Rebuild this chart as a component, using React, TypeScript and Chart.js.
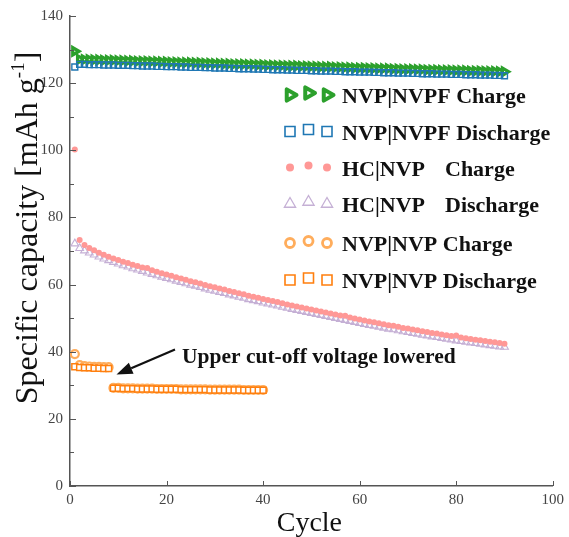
import React, { useEffect, useRef } from 'react';
import { Chart, registerables } from 'chart.js';

Chart.register(...registerables);

// Cycle numbers
const cycles90 = Array.from({ length: 90 }, (_, i) => i + 1);
const cycles40 = Array.from({ length: 40 }, (_, i) => i + 1);

// NVP|NVPF full cell
const nvpfCharge = [
  129.5, 127.1, 127.0, 127.0, 126.9, 126.9, 126.8, 126.8, 126.8, 126.7,
  126.7, 126.6, 126.6, 126.5, 126.5, 126.5, 126.4, 126.4, 126.3, 126.3,
  126.2, 126.2, 126.1, 126.1, 126.1, 126.0, 126.0, 125.9, 125.9, 125.8,
  125.8, 125.7, 125.7, 125.6, 125.6, 125.6, 125.5, 125.5, 125.4, 125.4,
  125.3, 125.3, 125.2, 125.2, 125.1, 125.1, 125.1, 125.0, 125.0, 124.9,
  124.9, 124.8, 124.8, 124.8, 124.7, 124.7, 124.6, 124.6, 124.5, 124.5,
  124.5, 124.4, 124.4, 124.3, 124.3, 124.3, 124.2, 124.2, 124.1, 124.1,
  124.1, 124.0, 124.0, 123.9, 123.9, 123.9, 123.8, 123.8, 123.8, 123.7,
  123.7, 123.7, 123.6, 123.6, 123.6, 123.5, 123.5, 123.5, 123.4, 123.4,
];
const nvpfDischarge = [
  124.8, 125.6, 125.6, 125.5, 125.5, 125.5, 125.4, 125.4, 125.4, 125.3,
  125.3, 125.3, 125.2, 125.2, 125.1, 125.1, 125.1, 125.0, 125.0, 124.9,
  124.9, 124.9, 124.8, 124.8, 124.7, 124.7, 124.7, 124.6, 124.6, 124.5,
  124.5, 124.5, 124.4, 124.4, 124.3, 124.3, 124.3, 124.2, 124.2, 124.1,
  124.1, 124.0, 124.0, 124.0, 123.9, 123.9, 123.8, 123.8, 123.8, 123.7,
  123.7, 123.6, 123.6, 123.6, 123.5, 123.5, 123.4, 123.4, 123.4, 123.3,
  123.3, 123.3, 123.2, 123.2, 123.1, 123.1, 123.1, 123.0, 123.0, 123.0,
  122.9, 122.9, 122.8, 122.8, 122.8, 122.7, 122.7, 122.7, 122.6, 122.6,
  122.6, 122.5, 122.5, 122.5, 122.4, 122.4, 122.4, 122.3, 122.3, 122.2,
];

// HC|NVP full cell
const hcCharge = [
  100.2, 73.3, 71.8, 70.9, 70.2, 69.5, 68.9, 68.3, 67.8, 67.3,
  66.8, 66.4, 65.9, 65.5, 65.1, 64.9, 64.3, 63.8, 63.4, 63.0,
  62.6, 62.2, 61.8, 61.4, 61.0, 60.7, 60.3, 59.9, 59.5, 59.2,
  58.8, 58.5, 58.1, 57.8, 57.4, 57.1, 56.7, 56.4, 56.1, 55.7,
  55.4, 55.1, 54.8, 54.4, 54.1, 53.8, 53.5, 53.2, 52.9, 52.6,
  52.3, 52.0, 51.7, 51.4, 51.1, 50.8, 50.7, 50.2, 49.9, 49.6,
  49.3, 49.0, 48.8, 48.5, 48.2, 47.9, 47.7, 47.4, 47.1, 46.9,
  46.6, 46.4, 46.1, 45.9, 45.6, 45.4, 45.1, 44.9, 44.7, 44.8,
  44.2, 44.0, 43.8, 43.6, 43.4, 43.2, 43.0, 42.8, 42.6, 42.4,
];
const hcDischarge = [
  72.2, 70.8, 70.1, 69.5, 68.9, 68.3, 67.7, 67.2, 66.7, 66.2,
  65.7, 65.3, 64.8, 64.4, 64.0, 63.5, 63.1, 62.7, 62.3, 61.9,
  61.5, 61.1, 60.7, 60.3, 59.9, 59.6, 59.2, 58.8, 58.4, 58.1,
  57.7, 57.4, 57.0, 56.7, 56.3, 56.0, 55.6, 55.3, 55.0, 54.6,
  54.3, 54.0, 53.7, 53.3, 53.0, 52.7, 52.4, 52.1, 51.8, 51.5,
  51.2, 50.9, 50.6, 50.3, 50.0, 49.7, 49.4, 49.1, 48.8, 48.5,
  48.2, 47.9, 47.7, 47.4, 47.1, 46.8, 46.6, 46.3, 46.0, 45.8,
  45.5, 45.3, 45.0, 44.8, 44.5, 44.3, 44.0, 43.8, 43.6, 43.3,
  43.1, 42.9, 42.7, 42.5, 42.3, 42.1, 41.9, 41.7, 41.5, 41.4,
];

// NVP|NVP symmetric cell (cut-off lowered after cycle 8)
const symCharge = [
  39.3, 36.0, 35.7, 35.6, 35.5, 35.5, 35.4, 35.4,
  29.2, 29.2, 29.1, 29.1, 29.1, 29.0, 29.0, 29.0, 29.0, 28.9, 28.9, 28.9,
  28.9, 28.9, 28.8, 28.8, 28.8, 28.8, 28.8, 28.8, 28.7, 28.7,
  28.7, 28.7, 28.7, 28.7, 28.7, 28.6, 28.6, 28.6, 28.6, 28.6,
];
const symDischarge = [
  35.5, 35.3, 35.2, 35.2, 35.1, 35.1, 35.0, 35.0,
  29.1, 29.1, 29.0, 29.0, 29.0, 28.9, 28.9, 28.9, 28.9, 28.8, 28.8, 28.8,
  28.8, 28.8, 28.7, 28.7, 28.7, 28.7, 28.7, 28.7, 28.6, 28.6,
  28.6, 28.6, 28.6, 28.6, 28.6, 28.5, 28.5, 28.5, 28.5, 28.5,
];

const Y_MAJOR = [0, 20, 40, 60, 80, 100, 120, 140];
const Y_MINOR = [10, 30, 50, 70, 90, 110, 130];
const X_MAJOR = [0, 20, 40, 60, 80, 100];

const GREEN = '#2ca02c';
const BLUE = '#1f77b4';
const PINK = '#ff9896';
const LAVENDER = '#c5b0d5';
const PEACH = '#ffad5c';
const ORANGE = '#ff7f0e';
const AXIS = '#555555';
const SERIF = "'Liberation Serif', 'Times New Roman', serif";

type MarkerKind = 'triRight' | 'triUp' | 'square' | 'dot' | 'ring';

const LEGEND_ROWS: { kind: MarkerKind; color: string; name: string; mode: string; split: boolean }[] = [
  { kind: 'triRight', color: GREEN, name: 'NVP|NVPF', mode: 'Charge', split: false },
  { kind: 'square', color: BLUE, name: 'NVP|NVPF', mode: 'Discharge', split: false },
  { kind: 'dot', color: PINK, name: 'HC|NVP', mode: 'Charge', split: true },
  { kind: 'triUp', color: LAVENDER, name: 'HC|NVP', mode: 'Discharge', split: true },
  { kind: 'ring', color: PEACH, name: 'NVP|NVP', mode: 'Charge', split: false },
  { kind: 'square', color: ORANGE, name: 'NVP|NVP', mode: 'Discharge', split: false },
];
const LEGEND_Y = [95, 131.5, 167.5, 204, 243, 280];

function drawMarker(ctx: CanvasRenderingContext2D, kind: MarkerKind, color: string, x: number, y: number) {
  ctx.save();
  ctx.beginPath();
  ctx.strokeStyle = color;
  ctx.fillStyle = color;
  if (kind === 'triRight') {
    const r = 6.5;
    ctx.moveTo(x + r, y);
    ctx.lineTo(x - r * 0.5, y - r * 0.866);
    ctx.lineTo(x - r * 0.5, y + r * 0.866);
    ctx.closePath();
    ctx.fillStyle = '#ffffff';
    ctx.fill();
    ctx.lineWidth = 4;
    ctx.lineJoin = 'round';
    ctx.stroke();
  } else if (kind === 'triUp') {
    const r = 6.5;
    ctx.moveTo(x, y - r);
    ctx.lineTo(x + r * 0.866, y + r * 0.5);
    ctx.lineTo(x - r * 0.866, y + r * 0.5);
    ctx.closePath();
    ctx.lineWidth = 1.3;
    ctx.stroke();
  } else if (kind === 'square') {
    ctx.rect(x - 5, y - 5, 10, 10);
    ctx.lineWidth = 1.6;
    ctx.stroke();
  } else if (kind === 'dot') {
    ctx.arc(x, y, 4, 0, Math.PI * 2);
    ctx.fill();
  } else {
    ctx.arc(x, y, 4.5, 0, Math.PI * 2);
    ctx.lineWidth = 2.8;
    ctx.stroke();
  }
  ctx.restore();
}

const decorations = {
  id: 'decorations',
  afterDraw(chart: any) {
    const { ctx, chartArea, scales } = chart;
    const xs = scales.x;
    const ys = scales.y;
    ctx.save();

    // inward tick marks
    ctx.strokeStyle = AXIS;
    ctx.lineWidth = 1;
    ctx.beginPath();
    for (const v of Y_MAJOR) {
      const py = Math.round(ys.getPixelForValue(v)) + 0.5;
      ctx.moveTo(chartArea.left, py);
      ctx.lineTo(chartArea.left + 6, py);
    }
    for (const v of Y_MINOR) {
      const py = Math.round(ys.getPixelForValue(v)) + 0.5;
      ctx.moveTo(chartArea.left, py);
      ctx.lineTo(chartArea.left + 4, py);
    }
    for (const v of X_MAJOR) {
      const px = Math.round(xs.getPixelForValue(v)) + 0.5;
      ctx.moveTo(px, chartArea.bottom);
      ctx.lineTo(px, chartArea.bottom - 5);
    }
    ctx.stroke();

    // axis titles
    ctx.fillStyle = '#111111';
    ctx.textBaseline = 'alphabetic';
    ctx.font = `28px ${SERIF}`;
    ctx.textAlign = 'center';
    ctx.fillText('Cycle', (chartArea.left + chartArea.right) / 2 - 2, 531);

    ctx.save();
    ctx.translate(37, 228);
    ctx.rotate(-Math.PI / 2);
    const mainFont = `32px ${SERIF}`;
    const supFont = `19px ${SERIF}`;
    const main = 'Specific capacity [mAh g';
    const sup = '-1';
    const close = ']';
    ctx.font = mainFont;
    const wMain = ctx.measureText(main).width;
    const wClose = ctx.measureText(close).width;
    ctx.font = supFont;
    const wSup = ctx.measureText(sup).width;
    const total = wMain + wSup + wClose;
    let cx = -total / 2;
    ctx.textAlign = 'left';
    ctx.font = mainFont;
    ctx.fillText(main, cx, 0);
    cx += wMain;
    ctx.font = supFont;
    ctx.fillText(sup, cx, -13);
    cx += wSup;
    ctx.font = mainFont;
    ctx.fillText(close, cx, 0);
    ctx.restore();

    // legend
    const markerX = [290, 308.5, 327];
    LEGEND_ROWS.forEach((row, i) => {
      const y = LEGEND_Y[i];
      markerX.forEach((mx, j) => drawMarker(ctx, row.kind, row.color, mx, j === 1 ? y - 2 : y));
      ctx.fillStyle = '#111111';
      ctx.font = `bold 22px ${SERIF}`;
      ctx.textAlign = 'left';
      if (row.split) {
        ctx.fillText(row.name, 342, y + 8);
        ctx.fillText(row.mode, 445, y + 8);
      } else {
        ctx.fillText(`${row.name} ${row.mode}`, 342, y + 8);
      }
    });

    // annotation with arrow
    ctx.font = `bold 21.5px ${SERIF}`;
    ctx.fillStyle = '#111111';
    ctx.textAlign = 'left';
    ctx.fillText('Upper cut-off voltage lowered', 182, 363);

    const x0 = 175, y0 = 349.5, x1 = 116.5, y1 = 374.5;
    const ang = Math.atan2(y1 - y0, x1 - x0);
    const headLen = 16, headHalf = 6;
    const bx = x1 - headLen * Math.cos(ang);
    const by = y1 - headLen * Math.sin(ang);
    ctx.strokeStyle = '#111111';
    ctx.lineWidth = 2.2;
    ctx.beginPath();
    ctx.moveTo(x0, y0);
    ctx.lineTo(bx, by);
    ctx.stroke();
    ctx.beginPath();
    ctx.moveTo(x1, y1);
    ctx.lineTo(bx + headHalf * Math.sin(ang), by - headHalf * Math.cos(ang));
    ctx.lineTo(bx - headHalf * Math.sin(ang), by + headHalf * Math.cos(ang));
    ctx.closePath();
    ctx.fillStyle = '#111111';
    ctx.fill();

    ctx.restore();
  },
};

function toPoints(xs: number[], ys: number[]) {
  return xs.map((x, i) => ({ x, y: ys[i] }));
}

export default function App() {
  const canvasRef = useRef<HTMLCanvasElement | null>(null);

  useEffect(() => {
    document.body.style.margin = '0';
    const canvas = canvasRef.current;
    if (!canvas) return;

    const chart = new Chart(canvas, {
      type: 'scatter',
      data: {
        datasets: [
          {
            label: 'NVP|NVPF Discharge',
            data: toPoints(cycles90, nvpfDischarge),
            pointStyle: 'rect',
            pointRadius: 4.2,
            borderColor: BLUE,
            backgroundColor: 'rgba(255,255,255,0)',
            borderWidth: 1.4,
            order: 1,
          },
          {
            label: 'NVP|NVPF Charge',
            data: toPoints(cycles90, nvpfCharge),
            pointStyle: 'triangle',
            rotation: 90,
            pointRadius: 4.2,
            borderColor: GREEN,
            backgroundColor: '#ffffff',
            borderWidth: 3.2,
            order: 2,
          },
          {
            label: 'HC|NVP Charge',
            data: toPoints(cycles90, hcCharge),
            pointStyle: 'circle',
            pointRadius: 3,
            borderColor: PINK,
            backgroundColor: PINK,
            borderWidth: 0,
            order: 3,
          },
          {
            label: 'HC|NVP Discharge',
            data: toPoints(cycles90, hcDischarge),
            pointStyle: 'triangle',
            pointRadius: 4.5,
            borderColor: LAVENDER,
            backgroundColor: 'rgba(255,255,255,0)',
            borderWidth: 1.1,
            order: 4,
          },
          {
            label: 'NVP|NVP Discharge',
            data: toPoints(cycles40, symDischarge),
            pointStyle: 'rect',
            pointRadius: 4.2,
            borderColor: ORANGE,
            backgroundColor: '#ffffff',
            borderWidth: 1.5,
            order: 5,
          },
          {
            label: 'NVP|NVP Charge',
            data: toPoints(cycles40, symCharge),
            pointStyle: 'circle',
            pointRadius: 4,
            borderColor: PEACH,
            backgroundColor: 'rgba(255,255,255,0)',
            borderWidth: 2.2,
            order: 6,
          },
        ],
      },
      options: {
        animation: false,
        responsive: false,
        layout: { padding: { top: 15, right: 13, left: 0, bottom: 0 } },
        plugins: {
          legend: { display: false },
          tooltip: { enabled: false },
        },
        scales: {
          x: {
            type: 'linear',
            min: 0,
            max: 100,
            ticks: {
              stepSize: 20,
              color: '#444444',
              padding: 5,
              maxRotation: 0,
              font: { family: SERIF, size: 15 },
            },
            grid: { display: false, drawTicks: false },
            border: { display: true, color: AXIS, width: 1.5 },
            afterFit: (s: any) => {
              s.height = 51;
            },
          },
          y: {
            type: 'linear',
            min: 0,
            max: 140,
            ticks: {
              stepSize: 20,
              color: '#444444',
              padding: 7,
              font: { family: SERIF, size: 15 },
            },
            grid: { display: false, drawTicks: false },
            border: { display: true, color: AXIS, width: 1.5 },
            afterFit: (s: any) => {
              s.width = 70;
            },
          },
        },
      },
      plugins: [decorations],
    });

    return () => chart.destroy();
  }, []);

  return (
    <div style={{ position: 'absolute', left: 0, top: 0, width: 569, height: 537, background: '#ffffff' }}>
      <canvas ref={canvasRef} width={569} height={537} style={{ display: 'block' }} />
    </div>
  );
}
